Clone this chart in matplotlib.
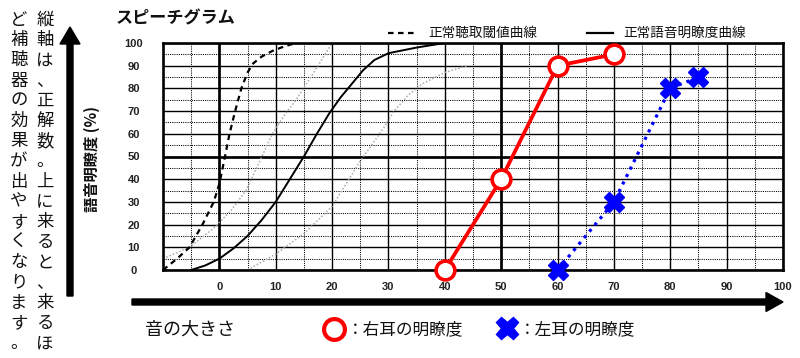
import matplotlib
matplotlib.use('Agg')
import matplotlib.pyplot as plt
from matplotlib.patches import FancyArrow
from matplotlib.lines import Line2D

# ---------------- data ----------------
x_ticks = [0, 10, 20, 30, 40, 50, 60, 70, 80, 90, 100]
y_ticks = [0, 10, 20, 30, 40, 50, 60, 70, 80, 90, 100]
x_minor = [-5, 5, 15, 25, 35, 45, 55, 65, 75, 85, 95]
y_minor = [5, 15, 25, 35, 45, 55, 65, 75, 85, 95]

threshold_x = [-10, -7.5, -5.3, -3, -1, 0, 1, 1.8, 2.8, 3.9, 5, 6, 7.5, 9.4, 11.5, 13.6]
threshold_y = [0, 5, 10, 20, 30, 38, 50, 60, 70, 80, 87, 91, 94, 96.5, 98.5, 100]

speech_x = [-5, -2.5, 0, 2.5, 5, 7.5, 10, 12.5, 15, 17.3, 19.5, 21.5, 23.5, 25.5, 27.5, 30, 35, 40]
speech_y = [0, 2, 5, 9.5, 15, 22, 30, 40, 50, 60, 69, 76, 82, 88, 92.5, 95.5, 98, 100]

ref1_x = [-10, -5.3, -1.2, 2, 4.7, 7, 9.4, 11.5, 13.6, 16.5, 20]
ref1_y = [5, 10, 18, 26, 35, 47, 60, 68, 75, 86, 100]

ref2_x = [5, 10, 15, 20, 25, 29, 31, 33.5, 36, 40, 44]
ref2_y = [0, 7, 16, 28, 48, 62, 70, 77, 82, 87, 90]

right_x = [40, 50, 60, 70]
right_y = [0, 40, 90, 95]
left_x = [60, 70, 80, 85]
left_y = [0, 30, 80, 85]

title = "スピーチグラム"
legend_threshold = "正常聴取閾値曲線"
legend_speech = "正常語音明瞭度曲線"
y_label = "語音明瞭度 (%)"
x_caption = "音の大きさ"
right_label = "：右耳の明瞭度"
left_label = "：左耳の明瞭度"
side_col1 = "縦軸は、正解数。上に来ると、来るほ"
side_col2 = "ど補聴器の効果が出やすくなります。"

CJK = ['Noto Sans CJK JP', 'DejaVu Sans']
NUM = ['Liberation Sans', 'DejaVu Sans']

W, H = 800, 358
fig = plt.figure(figsize=(W / 100, H / 100), dpi=100)


def fx(px):
    return px / W


def fy(py):
    return 1 - py / H


# ---------------- axes ----------------
L, R, T, B = 163, 783, 43, 270
ax = fig.add_axes([fx(L), fy(B), (R - L) / W, (B - T) / H])
ax.set_xlim(-10, 100)
ax.set_ylim(0, 100)

ax.set_xticks(x_ticks)
ax.set_xticklabels([str(v) for v in x_ticks])
ax.set_xticks(x_minor, minor=True)
ax.set_yticks(y_ticks)
ax.set_yticklabels([str(v) for v in y_ticks])
ax.set_yticks(y_minor, minor=True)
ax.tick_params(which='both', length=0)
ax.tick_params(axis='x', pad=9)
ax.tick_params(axis='y', pad=21)
for lab in ax.get_xticklabels() + ax.get_yticklabels():
    lab.set_fontfamily(NUM)
    lab.set_fontweight('bold')
    lab.set_fontsize(8)
    lab.set_color('#222222')
for lab in ax.get_yticklabels():
    lab.set_horizontalalignment('center')

ax.grid(which='major', color='black', lw=1.0, ls='-', zorder=1)
ax.grid(which='minor', color='black', lw=0.75, ls=(0, (1, 1.1)), zorder=1)
ax.set_axisbelow(True)
for v in (0, 50):
    ax.axvline(v, color='black', lw=1.9, zorder=1.5)
ax.axhline(50, color='black', lw=1.9, zorder=1.5)
for s in ax.spines.values():
    s.set_linewidth(1.9)
    s.set_zorder(3)

# reference curves
ax.plot(ref1_x, ref1_y, color='#a9a9a9', lw=1.1, ls=(0, (1, 1.3)), zorder=2)
ax.plot(ref2_x, ref2_y, color='#a9a9a9', lw=1.1, ls=(0, (1, 1.3)), zorder=2)
ax.plot(threshold_x, threshold_y, color='black', lw=1.6, ls=(0, (2.5, 2)), zorder=2.5)
ax.plot(speech_x, speech_y, color='black', lw=1.4, ls='-', zorder=2.5)

# measurement data
ax.plot(right_x, right_y, color='#ff0000', lw=2.7, marker='o', ms=13.5,
        mfc='white', mec='#ff0000', mew=2.6, zorder=5, clip_on=False)
ax.plot(left_x, left_y, color='#0000ff', lw=2.3, ls=(0, (1, 1.6)),
        zorder=4, clip_on=False)
ax.plot(left_x, left_y, ls='none', marker='X', ms=15, color='#0000ff',
        mec='#0000ff', zorder=5, clip_on=False)

# ---------------- texts ----------------
fig.text(fx(116), fy(18), title, family=CJK, fontsize=12.3, fontweight='bold',
         ha='left', va='center', color='#111111')

# legend (top)
fig.add_artist(Line2D([fx(388), fx(415)], [fy(33), fy(33)], color='black',
                      lw=1.6, ls=(0, (2.5, 2))))
fig.text(fx(428), fy(33), legend_threshold, family=CJK, fontsize=9.8,
         ha='left', va='center', color='#111111')
fig.add_artist(Line2D([fx(587), fx(613)], [fy(33), fy(33)], color='black', lw=1.6))
fig.text(fx(623), fy(33), legend_speech, family=CJK, fontsize=9.8,
         ha='left', va='center', color='#111111')

# y label
fig.text(fx(92), fy(159), y_label, family=CJK, fontsize=11, fontweight='bold',
         rotation=90, ha='center', va='center', color='#111111')

# arrows
fig.add_artist(FancyArrow(1.32, (H - 302) / 100, (783 - 132) / 100, 0,
                          width=0.06, head_width=0.19, head_length=0.17,
                          length_includes_head=True, color='black',
                          transform=fig.dpi_scale_trans))
fig.add_artist(FancyArrow(0.70, (H - 296) / 100, 0, (296 - 27) / 100,
                          width=0.06, head_width=0.20, head_length=0.17,
                          length_includes_head=True, color='black',
                          transform=fig.dpi_scale_trans))

# vertical side text
step = 20.2
for i, ch in enumerate(side_col1):
    fig.text(fx(45), fy(20 + i * step), ch, family=CJK, fontsize=12.5,
             ha='center', va='center', color='#111111')
for i, ch in enumerate(side_col2):
    fig.text(fx(19), fy(20 + i * step), ch, family=CJK, fontsize=12.5,
             ha='center', va='center', color='#111111')

# bottom caption / legend
fig.text(fx(145), fy(330), x_caption, family=CJK, fontsize=13,
         ha='left', va='center', color='#111111')
fig.add_artist(Line2D([fx(334)], [fy(329)], ls='none', marker='o', ms=15,
                      mfc='white', mec='#ff0000', mew=3))
fig.text(fx(347), fy(330), right_label, family=CJK, fontsize=12,
         ha='left', va='center', color='#111111')
fig.add_artist(Line2D([fx(507)], [fy(328)], ls='none', marker='X', ms=16,
                      color='#0000ff'))
fig.text(fx(519), fy(330), left_label, family=CJK, fontsize=12,
         ha='left', va='center', color='#111111')

fig.savefig('out.png', dpi=100)
